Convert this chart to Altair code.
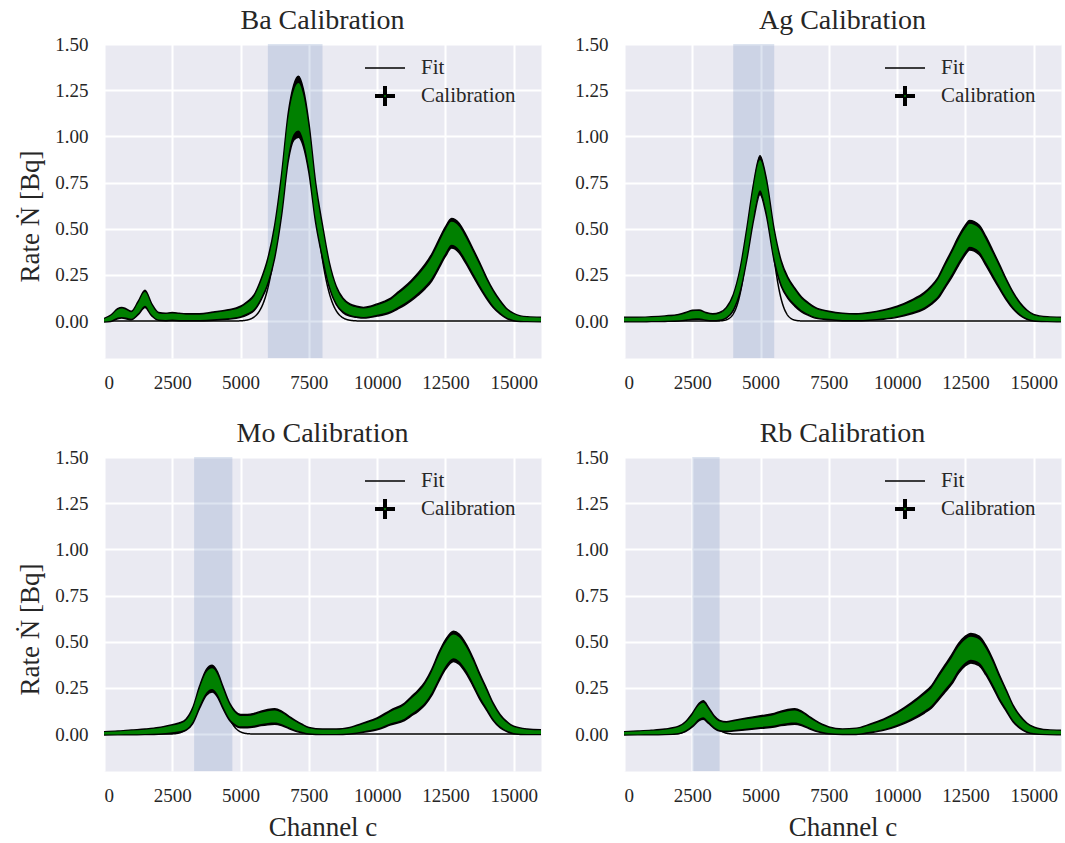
import numpy as np
import pandas as pd
import altair as alt

# ---------------------------------------------------------------- data
SOURCES = ["Ba", "Ag", "Mo", "Rb"]

BA_CHANNEL = [0, 250, 500, 650, 800, 1000, 1250, 1500, 1750, 2000,
              2250, 2500, 2750, 3000, 3500, 4000, 4500, 5000, 5250, 5500,
              5750, 6000, 6250, 6500, 6750, 6950, 7120, 7300, 7500, 7750,
              8000, 8250, 8500, 8750, 9000, 9250, 9500, 9750, 10000, 10250,
              10500, 10750, 11000, 11250, 11500, 11750, 12000, 12250, 12500, 12725,
              13000, 13250, 13500, 13750, 14000, 14250, 14500, 14750, 15000, 15250,
              15500, 16000]
BA_RATE = [0.004, 0.015, 0.04, 0.045, 0.04, 0.03, 0.07, 0.12, 0.06, 0.025,
           0.022, 0.025, 0.022, 0.02, 0.02, 0.027, 0.035, 0.05, 0.07, 0.1,
           0.17, 0.27, 0.43, 0.68, 1.0, 1.13, 1.16, 1.1, 0.94, 0.64,
           0.43, 0.25, 0.14, 0.085, 0.06, 0.05, 0.045, 0.05, 0.06, 0.07,
           0.085, 0.11, 0.135, 0.165, 0.2, 0.24, 0.29, 0.36, 0.43, 0.475,
           0.45, 0.39, 0.32, 0.25, 0.18, 0.12, 0.075, 0.04, 0.022, 0.013,
           0.01, 0.008]
BA_ERR = [0.009, 0.017, 0.027, 0.029, 0.027, 0.023, 0.036, 0.047, 0.033, 0.021,
          0.02, 0.021, 0.02, 0.019, 0.019, 0.022, 0.025, 0.03, 0.036, 0.043,
          0.056, 0.07, 0.089, 0.111, 0.13, 0.15, 0.165, 0.155, 0.135, 0.108,
          0.089, 0.068, 0.05, 0.039, 0.033, 0.03, 0.029, 0.03, 0.033, 0.036,
          0.039, 0.045, 0.05, 0.055, 0.06, 0.066, 0.073, 0.077, 0.08, 0.08,
          0.08, 0.078, 0.074, 0.068, 0.057, 0.047, 0.037, 0.027, 0.02, 0.015,
          0.013, 0.012]

AG_CHANNEL = [0, 500, 1000, 1500, 2000, 2250, 2500, 2750, 3000, 3250,
              3500, 3750, 4000, 4250, 4500, 4750, 4980, 5200, 5500, 5750,
              6000, 6250, 6500, 6750, 7000, 7500, 8000, 8500, 9000, 9500,
              10000, 10500, 11000, 11250, 11500, 11750, 12000, 12250, 12500, 12650,
              13000, 13250, 13500, 13750, 14000, 14250, 14500, 14750, 15000, 15500,
              16000]
AG_RATE = [0.008, 0.008, 0.01, 0.013, 0.018, 0.025, 0.033, 0.035, 0.025, 0.02,
           0.025, 0.045, 0.1, 0.22, 0.42, 0.65, 0.79, 0.68, 0.41, 0.26,
           0.18, 0.13, 0.09, 0.065, 0.045, 0.03, 0.022, 0.02, 0.025, 0.035,
           0.05, 0.075, 0.11, 0.14, 0.18, 0.245, 0.31, 0.38, 0.44, 0.465,
           0.44, 0.38, 0.31, 0.24, 0.17, 0.11, 0.065, 0.035, 0.018, 0.01,
           0.008]
AG_ERR = [0.012, 0.012, 0.013, 0.015, 0.018, 0.021, 0.025, 0.025, 0.021, 0.019,
          0.021, 0.029, 0.043, 0.063, 0.085, 0.1, 0.105, 0.1, 0.085, 0.069,
          0.057, 0.049, 0.04, 0.034, 0.029, 0.023, 0.02, 0.019, 0.021, 0.025,
          0.03, 0.037, 0.045, 0.05, 0.057, 0.066, 0.073, 0.078, 0.08, 0.08,
          0.08, 0.078, 0.073, 0.066, 0.056, 0.045, 0.034, 0.025, 0.018, 0.013,
          0.012]

MO_CHANNEL = [0, 500, 1000, 1500, 2000, 2500, 2750, 3000, 3250, 3500,
              3750, 3960, 4150, 4350, 4600, 4800, 5000, 5250, 5500, 5750,
              6000, 6250, 6500, 6750, 7000, 7250, 7500, 8000, 8500, 9000,
              9500, 10000, 10500, 11000, 11250, 11500, 11750, 12000, 12250, 12500,
              12800, 13000, 13250, 13500, 13750, 14000, 14250, 14500, 14750, 15000,
              15500, 16000]
MO_RATE = [0.004, 0.006, 0.009, 0.012, 0.017, 0.028, 0.035, 0.05, 0.1, 0.2,
           0.28, 0.3, 0.27, 0.2, 0.12, 0.085, 0.07, 0.07, 0.075, 0.085,
           0.092, 0.095, 0.085, 0.065, 0.045, 0.03, 0.018, 0.012, 0.012, 0.018,
           0.035, 0.055, 0.09, 0.12, 0.15, 0.18, 0.22, 0.28, 0.36, 0.43,
           0.475, 0.46, 0.41, 0.34, 0.26, 0.19, 0.12, 0.07, 0.04, 0.022,
           0.012, 0.01]
MO_ERR = [0.009, 0.01, 0.013, 0.015, 0.018, 0.023, 0.025, 0.03, 0.043, 0.06,
          0.07, 0.072, 0.068, 0.06, 0.047, 0.039, 0.036, 0.036, 0.037, 0.039,
          0.041, 0.042, 0.039, 0.034, 0.029, 0.023, 0.018, 0.015, 0.015, 0.018,
          0.025, 0.032, 0.04, 0.047, 0.052, 0.057, 0.063, 0.071, 0.078, 0.08,
          0.082, 0.082, 0.08, 0.076, 0.069, 0.059, 0.047, 0.036, 0.027, 0.02,
          0.015, 0.013]

RB_CHANNEL = [0, 500, 1000, 1500, 2000, 2250, 2500, 2750, 2900, 3100,
              3300, 3500, 3750, 4000, 4500, 5000, 5500, 5750, 6000, 6250,
              6500, 6750, 7000, 7250, 7500, 8000, 8500, 9000, 9500, 10000,
              10500, 11000, 11250, 11500, 11750, 12000, 12250, 12500, 12700, 13000,
              13250, 13500, 13750, 14000, 14250, 14500, 14750, 15000, 15500, 16000]
RB_RATE = [0.004, 0.006, 0.008, 0.012, 0.022, 0.04, 0.075, 0.12, 0.13, 0.1,
           0.065, 0.045, 0.04, 0.045, 0.055, 0.065, 0.075, 0.085, 0.092, 0.095,
           0.085, 0.065, 0.045, 0.03, 0.02, 0.013, 0.015, 0.03, 0.05, 0.08,
           0.12, 0.17, 0.2, 0.25, 0.3, 0.35, 0.41, 0.45, 0.465, 0.45,
           0.4, 0.33, 0.25, 0.18, 0.11, 0.065, 0.035, 0.02, 0.01, 0.008]
RB_ERR = [0.009, 0.01, 0.012, 0.015, 0.02, 0.027, 0.037, 0.047, 0.05, 0.043,
          0.034, 0.029, 0.027, 0.029, 0.032, 0.034, 0.037, 0.039, 0.041, 0.042,
          0.039, 0.034, 0.029, 0.023, 0.019, 0.015, 0.017, 0.023, 0.03, 0.038,
          0.047, 0.056, 0.06, 0.068, 0.074, 0.08, 0.08, 0.08, 0.08, 0.08,
          0.08, 0.076, 0.068, 0.057, 0.045, 0.034, 0.025, 0.019, 0.013, 0.012]

# Gaussian fit of the calibration line (per source)
FIT_CENTER = [7100, 4980, 3930, 2900]
FIT_SIGMA = [570, 400, 420, 330]
FIT_AMPLITUDE = [1.15, 0.78, 0.30, 0.125]

# channel window used for each fit
WINDOW_START = [6000, 4000, 3300, 2500]
WINDOW_END = [8000, 5500, 4700, 3500]

X_TICKS = [0, 2500, 5000, 7500, 10000, 12500, 15000]
Y_TICKS = [0.0, 0.25, 0.5, 0.75, 1.0, 1.25, 1.5]
LEGEND_LABELS = ["Fit", "Calibration"]

# ---------------------------------------------------------------- style
SERIF = "Liberation Serif"
INK = "#262626"
W, H = 437, 314


def panel(i, channel, rate, err, x_title, y_title):
    name = SOURCES[i]
    spec = pd.DataFrame({"channel": channel, "rate": rate, "err": err})
    spec["lo"] = spec["rate"] - spec["err"]
    spec["hi"] = spec["rate"] + spec["err"]
    spec["glo"] = spec["rate"] - 0.78 * spec["err"]
    spec["ghi"] = spec["rate"] + 0.78 * spec["err"]

    grid = np.linspace(0, 16000, 1601)
    fit = pd.DataFrame({
        "channel": grid,
        "fit": FIT_AMPLITUDE[i] * np.exp(-0.5 * ((grid - FIT_CENTER[i]) / FIT_SIGMA[i]) ** 2),
    })
    window = pd.DataFrame({"start": [WINDOW_START[i]], "end": [WINDOW_END[i]]})

    xs = alt.Scale(domain=[0, 16000], nice=False, zero=False)
    ys = alt.Scale(domain=[-0.2, 1.5], nice=False, zero=False)
    x_axis = alt.Axis(values=X_TICKS, format="d", title=x_title, grid=True,
                      gridColor="white", gridWidth=2, domain=False, ticks=False,
                      labelPadding=15, labelFont=SERIF, labelFontSize=19,
                      labelColor=INK, titleFont=SERIF, titleFontSize=27,
                      titleFontWeight="normal", titleColor=INK, titlePadding=9)
    y_axis = alt.Axis(values=Y_TICKS, format=".2f", title=y_title, grid=True,
                      gridColor="white", gridWidth=2, domain=False, ticks=False,
                      labelPadding=16, labelFont=SERIF, labelFontSize=19,
                      labelColor=INK, titleFont=SERIF, titleFontSize=27,
                      titleFontWeight="normal", titleColor=INK, titlePadding=10,
                      titleY=172)

    def X(field):
        return alt.X(field, type="quantitative", scale=xs, axis=x_axis)

    def Y(field):
        return alt.Y(field, type="quantitative", scale=ys, axis=y_axis)

    shade = alt.Chart(window).mark_rect(color="#4C72B0", opacity=0.19).encode(
        x=X("start"), x2="end", y=alt.value(0), y2=alt.value(H))

    fit_line = alt.Chart(fit).mark_line(color="black", strokeWidth=1.5, clip=True).encode(
        x=X("channel"), y=Y("fit"))

    err_band = alt.Chart(spec).mark_area(
        color="black", stroke="black", strokeWidth=1.5, interpolate="monotone", clip=True
    ).encode(x=X("channel"), y=Y("lo"), y2="hi")

    data_band = alt.Chart(spec).mark_area(
        color="#008000", interpolate="monotone", clip=True
    ).encode(x=X("channel"), y=Y("glo"), y2="ghi")

    # in-panel legend
    fit_key = pd.DataFrame({"label": [LEGEND_LABELS[0]]})
    cal_key = pd.DataFrame({"label": [LEGEND_LABELS[1]]})
    key_line = alt.Chart(fit_key).mark_rule(color="black", strokeWidth=1.5).encode(
        x=alt.value(261), x2=alt.value(301), y=alt.value(24))
    key_h = alt.Chart(cal_key).mark_rule(color="black", strokeWidth=4).encode(
        x=alt.value(271), x2=alt.value(291), y=alt.value(52))
    key_v = alt.Chart(cal_key).mark_rule(color="black", strokeWidth=4).encode(
        x=alt.value(281), y=alt.value(42), y2=alt.value(62))
    key_dot = alt.Chart(cal_key).mark_point(filled=True, color="#008000", size=4, opacity=1).encode(
        x=alt.value(281), y=alt.value(52))
    key_fit_text = alt.Chart(fit_key).mark_text(
        align="left", baseline="middle", font=SERIF, fontSize=21, color=INK
    ).encode(x=alt.value(317), y=alt.value(24), text="label:N")
    key_cal_text = alt.Chart(cal_key).mark_text(
        align="left", baseline="middle", font=SERIF, fontSize=21, color=INK
    ).encode(x=alt.value(317), y=alt.value(52), text="label:N")

    return alt.layer(
        shade, fit_line, err_band, data_band,
        key_line, key_h, key_v, key_dot, key_fit_text, key_cal_text,
    ).properties(
        width=W, height=H,
        title=alt.TitleParams(f"{name} Calibration", font=SERIF, fontSize=28,
                              fontWeight="normal", color=INK, offset=0, anchor="middle"),
    )


Y_LABEL = "Rate Ṅ [Bq]"
X_LABEL = "Channel c"

ba = panel(0, BA_CHANNEL, BA_RATE, BA_ERR, None, Y_LABEL)
ag = panel(1, AG_CHANNEL, AG_RATE, AG_ERR, None, None)
mo = panel(2, MO_CHANNEL, MO_RATE, MO_ERR, X_LABEL, Y_LABEL)
rb = panel(3, RB_CHANNEL, RB_RATE, RB_ERR, X_LABEL, None)

chart = alt.vconcat(
    alt.hconcat(ba, ag, spacing=32),
    alt.hconcat(mo, rb, spacing=32),
    spacing=26,
).properties(
    padding={"left": 16, "top": 6, "right": 0, "bottom": 0},
    background="white",
).configure_view(fill="#EAEAF2", stroke="transparent")

chart.save("out.html", embed_options={"renderer": "svg", "actions": False})
